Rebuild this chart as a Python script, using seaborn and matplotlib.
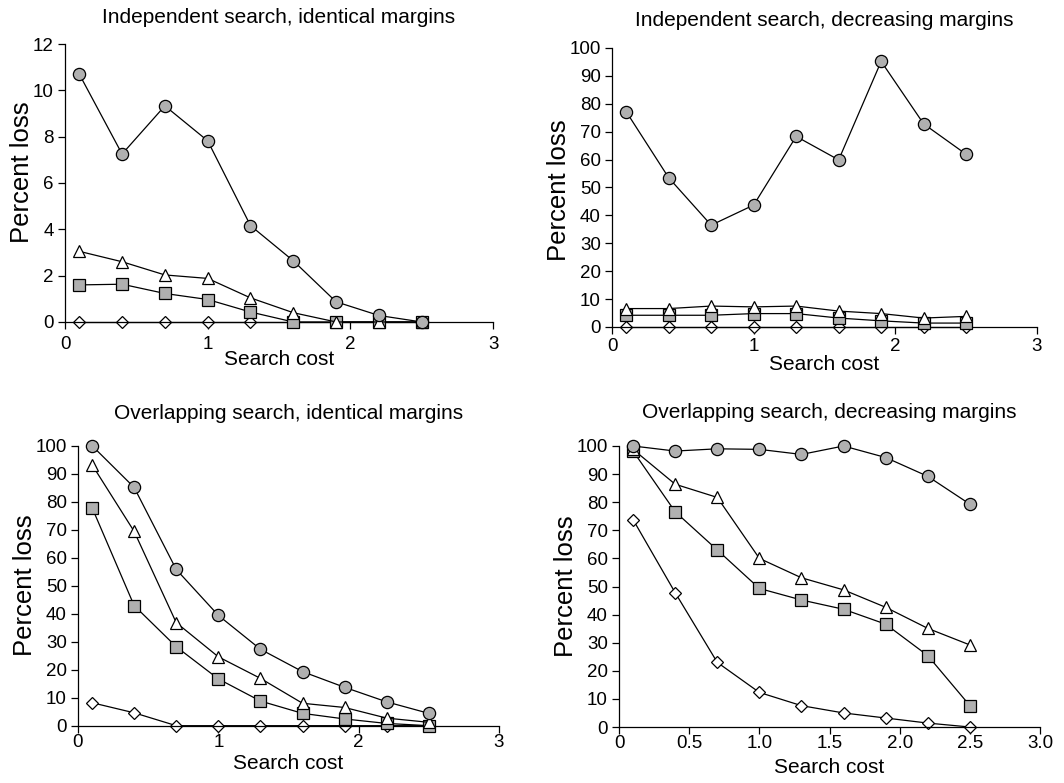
import matplotlib
matplotlib.use("Agg")
import matplotlib.pyplot as plt
import seaborn as sns
import pandas as pd

sns.set_theme(style="ticks")
plt.rcParams['font.family'] = ['Liberation Sans', 'DejaVu Sans']

search_cost = [0.1, 0.4, 0.7, 1.0, 1.3, 1.6, 1.9, 2.2, 2.5]

# Panel 1: Independent search, identical margins
p1_circle = [10.7, 7.25, 9.33, 7.82, 4.16, 2.64, 0.87, 0.28, 0.0]
p1_triangle = [3.05, 2.6, 2.03, 1.88, 1.04, 0.4, 0.0, 0.0, 0.0]
p1_square = [1.6, 1.63, 1.23, 0.97, 0.43, 0.0, 0.0, 0.0, 0.0]
p1_diamond = [0.0, 0.0, 0.0, 0.0, 0.0, 0.0, 0.0, 0.0, 0.0]

# Panel 2: Independent search, decreasing margins
p2_circle = [77.2, 53.5, 36.5, 43.7, 68.3, 59.9, 95.2, 72.8, 61.9]
p2_triangle = [6.6, 6.6, 7.5, 7.2, 7.5, 5.7, 4.8, 3.2, 3.8]
p2_square = [4.2, 4.2, 4.2, 4.8, 4.8, 3.2, 2.2, 1.4, 1.4]
p2_diamond = [0.0, 0.0, 0.0, 0.0, 0.0, 0.0, 0.0, 0.0, 0.0]

# Panel 3: Overlapping search, identical margins
p3_circle = [100.0, 85.1, 55.8, 39.4, 27.3, 19.3, 13.7, 8.5, 4.4]
p3_triangle = [93.2, 69.4, 36.8, 24.6, 16.9, 8.0, 6.5, 2.7, 1.2]
p3_square = [77.9, 42.9, 28.2, 16.7, 8.8, 4.4, 2.4, 0.8, 0.0]
p3_diamond = [8.2, 4.6, 0.0, 0.0, 0.0, 0.0, 0.0, 0.0, 0.0]

# Panel 4: Overlapping search, decreasing margins
p4_circle = [100.0, 98.2, 99.0, 98.8, 97.0, 100.0, 95.9, 89.2, 79.3]
p4_triangle = [98.8, 86.4, 81.7, 60.0, 53.1, 48.8, 42.6, 35.1, 29.2]
p4_square = [98.2, 76.6, 63.0, 49.3, 45.2, 41.9, 36.6, 25.4, 7.6]
p4_diamond = [73.8, 47.8, 23.0, 12.3, 7.6, 5.0, 3.2, 1.4, 0.0]

titles = ["Independent search, identical margins",
          "Independent search, decreasing margins",
          "Overlapping search, identical margins",
          "Overlapping search, decreasing margins"]

panels = [
    (p1_circle, p1_triangle, p1_square, p1_diamond),
    (p2_circle, p2_triangle, p2_square, p2_diamond),
    (p3_circle, p3_triangle, p3_square, p3_diamond),
    (p4_circle, p4_triangle, p4_square, p4_diamond),
]

y_ticks = [list(range(0, 13, 2)), list(range(0, 101, 10)),
           list(range(0, 101, 10)), list(range(0, 101, 10))]
x_ticks = [[0, 1, 2, 3], [0, 1, 2, 3], [0, 1, 2, 3],
           [0, 0.5, 1.0, 1.5, 2.0, 2.5, 3.0]]
x_ticklabels = [["0", "1", "2", "3"], ["0", "1", "2", "3"], ["0", "1", "2", "3"],
                ["0", "0.5", "1.0", "1.5", "2.0", "2.5", "3.0"]]

positions = [
    [0.0611, 0.5888, 0.4023, 0.3550],
    [0.5752, 0.5824, 0.3994, 0.3563],
    [0.0733, 0.0732, 0.3957, 0.3576],
    [0.5818, 0.0715, 0.3957, 0.3589],
]
title_pads = [15, 16, 19, 20]
xtick_pads = [5, 3, 1, 1]
xlabel_pads = [-2, 0, 2, 4]
ylabel_y = [0.54, 0.49, 0.5, 0.5]

grey = "#b0b0b0"
styles = [
    # (index in panel tuple, marker, facecolor, size, zorder)
    (3, "D", "white", 6.3, 2),
    (2, "s", grey, 8.0, 3),
    (1, "^", "white", 8.8, 4),
    (0, "o", grey, 8.8, 5),
]

fig = plt.figure(figsize=(10.64, 7.83), dpi=100)

for i, pos in enumerate(positions):
    ax = fig.add_axes(pos)
    for idx, mk, fc, ms, z in styles:
        df = pd.DataFrame({"x": search_cost, "y": panels[i][idx]})
        sns.lineplot(data=df, x="x", y="y", ax=ax, color="black", linewidth=0.9,
                     marker=mk, markersize=ms, markerfacecolor=fc,
                     markeredgecolor="black", markeredgewidth=0.9,
                     clip_on=False, zorder=z, legend=False)
    ax.set_xlim(0, 3)
    ax.set_ylim(0, y_ticks[i][-1])
    ax.set_yticks(y_ticks[i])
    ax.set_xticks(x_ticks[i])
    ax.set_xticklabels(x_ticklabels[i])
    ax.set_title(titles[i], fontsize=15, pad=title_pads[i], color="black")
    ax.set_xlabel("Search cost", fontsize=15, labelpad=xlabel_pads[i], color="black")
    ax.set_ylabel("Percent loss", fontsize=18.5, labelpad=-1, color="black")
    ax.tick_params(axis="y", labelsize=13.5, length=5, width=0.9,
                   colors="black", direction="out", pad=3)
    ax.tick_params(axis="x", labelsize=13.5, length=5, width=0.9,
                   colors="black", direction="out", pad=xtick_pads[i])
    for side in ["top", "right"]:
        ax.spines[side].set_visible(False)
    for side in ["left", "bottom"]:
        ax.spines[side].set_linewidth(0.9)
        ax.spines[side].set_color("black")
    ax.set_facecolor("white")
    fig.canvas.draw()
    lx = ax.yaxis.label.get_position()
    ax.yaxis.label.set_y(ylabel_y[i])

fig.patch.set_facecolor("white")
fig.savefig("out.png", dpi=100, facecolor="white")
